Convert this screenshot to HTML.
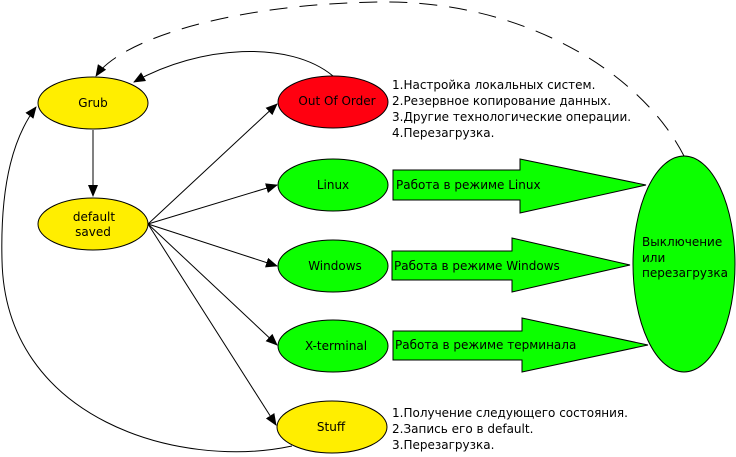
<!DOCTYPE html>
<html><head><meta charset="utf-8"><style>
html,body{margin:0;padding:0;background:#fff;}
svg{display:block;}
text{font-family:"DejaVu Sans","Liberation Sans",sans-serif;font-size:12px;fill:#000;}
</style></head><body>
<svg width="736" height="457" viewBox="0 0 736 457" xmlns="http://www.w3.org/2000/svg">
<defs>
<marker id="a" markerWidth="12" markerHeight="10" refX="11" refY="5" orient="auto" markerUnits="userSpaceOnUse">
<path d="M0,0 L12,5 L0,10 z" fill="#000"/></marker>
</defs>
<g fill="none" stroke="#000" stroke-width="1">
<path d="M684,156 C640,70 520,0 380,2 C230,4 120,40 96,76" stroke-dasharray="18,12" marker-end="url(#a)"/>
<path d="M333,76 C290,40 200,45 134,82" marker-end="url(#a)"/>
<path d="M292,446 C180,470 5,420 2,260 C0,180 15,135 36,107" marker-end="url(#a)"/>
<path d="M93,130 L93,196" marker-end="url(#a)"/>
<path d="M148,224 L277,104" marker-end="url(#a)"/>
<path d="M148,224 L277,185" marker-end="url(#a)"/>
<path d="M148,224 L277,266" marker-end="url(#a)"/>
<path d="M148,224 L277,345" marker-end="url(#a)"/>
<path d="M148,224 L276,425" marker-end="url(#a)"/>
</g>
<g stroke="#000" stroke-width="1">
<ellipse cx="93" cy="103" rx="55" ry="26" fill="#ffee00"/>
<ellipse cx="93" cy="224" rx="55" ry="26" fill="#ffee00"/>
<ellipse cx="333" cy="102" rx="55" ry="26" fill="#ff0010"/>
<ellipse cx="333" cy="185" rx="55" ry="26" fill="#0cff00"/>
<ellipse cx="333" cy="266" rx="55" ry="26" fill="#0cff00"/>
<ellipse cx="333" cy="346" rx="55" ry="26" fill="#0cff00"/>
<ellipse cx="332" cy="427" rx="55" ry="26" fill="#ffee00"/>
<ellipse cx="684" cy="264" rx="51" ry="108" fill="#0cff00"/>
<path d="M393,170 L520,170 L520,159 L646,185 L520,213 L520,200 L393,200 z" fill="#0cff00"/>
<path d="M392,251 L512,251 L512,238 L630,265 L512,292 L512,280 L392,280 z" fill="#0cff00"/>
<path d="M393,331 L522,331 L522,318 L648,345 L522,372 L522,360 L393,360 z" fill="#0cff00"/>
</g>
<text x="93" y="107" text-anchor="middle">Grub</text>
<text x="94" y="221" text-anchor="middle">default</text>
<text x="93" y="236" text-anchor="middle">saved</text>
<text x="337" y="105" text-anchor="middle">Out Of Order</text>
<text x="333" y="189" text-anchor="middle">Linux</text>
<text x="335" y="270" text-anchor="middle">Windows</text>
<text x="336" y="350" text-anchor="middle">X-terminal</text>
<text x="331" y="431" text-anchor="middle">Stuff</text>
<text x="396" y="189">Работа в режиме Linux</text>
<text x="394" y="270">Работа в режиме Windows</text>
<text x="395" y="349">Работа в режиме терминала</text>
<text x="642" y="246">Выключение</text>
<text x="642" y="262">или</text>
<text x="642" y="277">перезагрузка</text>
<text x="392" y="89">1.Настройка локальных систем.</text>
<text x="392" y="105">2.Резервное копирование данных.</text>
<text x="392" y="121">3.Другие технологические операции.</text>
<text x="392" y="137">4.Перезагрузка.</text>
<text x="392" y="417">1.Получение следующего состояния.</text>
<text x="392" y="433">2.Запись его в default.</text>
<text x="392" y="449">3.Перезагрузка.</text>
</svg>
</body></html>
